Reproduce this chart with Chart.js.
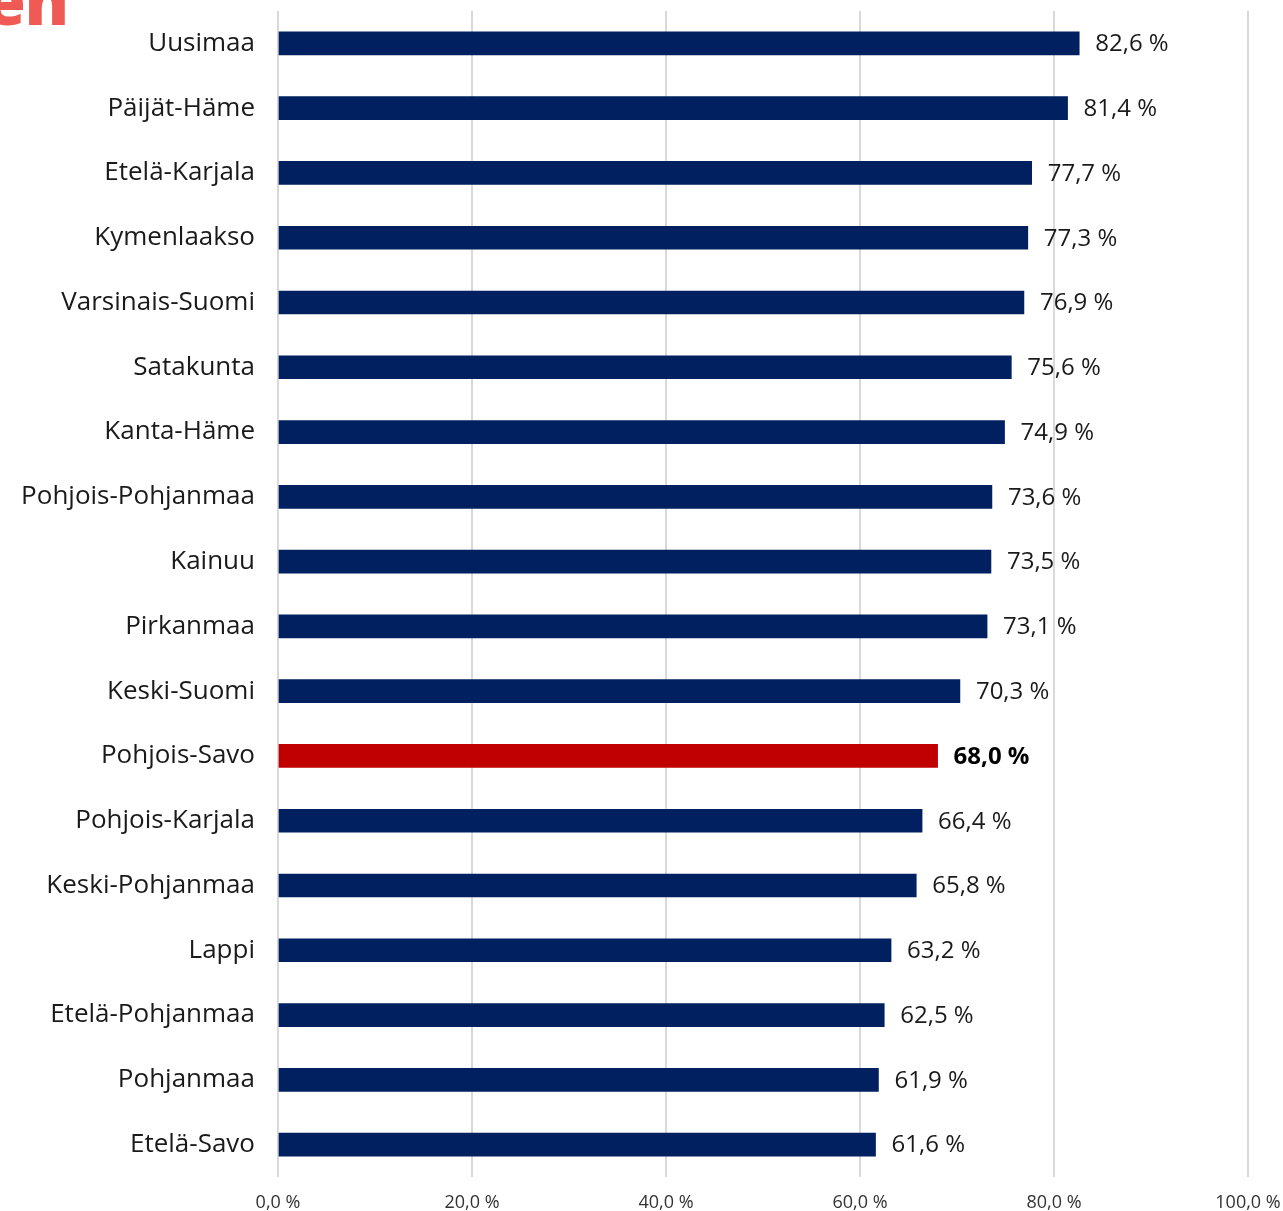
<!DOCTYPE html>
<html>
<head>
<meta charset="utf-8">
<script src="https://cdn.jsdelivr.net/npm/chart.js@4/dist/chart.umd.min.js"></script>
<style>
  html, body { margin: 0; padding: 0; background: #ffffff; overflow: hidden; }
  #wrap { position: relative; width: 1283px; height: 1211px; }
  #logo { position: absolute; left: -15px; top: -34px; font-family: "Open Sans", sans-serif; font-weight: 800; font-size: 66px; color: #ef5a55; line-height: 1; letter-spacing: -1px; }
  canvas { position: absolute; left: 0; top: 0; }
</style>
</head>
<body>
<div id="wrap">
  <canvas id="c" width="1283" height="1211"></canvas>
  <div id="logo">en</div>
</div>
<script>
const categories = ["Uusimaa","Päijät-Häme","Etelä-Karjala","Kymenlaakso","Varsinais-Suomi","Satakunta","Kanta-Häme","Pohjois-Pohjanmaa","Kainuu","Pirkanmaa","Keski-Suomi","Pohjois-Savo","Pohjois-Karjala","Keski-Pohjanmaa","Lappi","Etelä-Pohjanmaa","Pohjanmaa","Etelä-Savo"];
const values = [82.6,81.4,77.7,77.3,76.9,75.6,74.9,73.6,73.5,73.1,70.3,68.0,66.4,65.8,63.2,62.5,61.9,61.6];
const highlighted = "Pohjois-Savo";
const xTicks = [0,20,40,60,80,100];

const FONT = '"Open Sans", sans-serif';
const fmt = v => v.toFixed(1).replace('.', ',') + ' %';

const labelPlugin = {
  id: 'valueLabels',
  afterDatasetsDraw(chart) {
    const ctx = chart.ctx;
    const meta = chart.getDatasetMeta(0);
    ctx.save();
    ctx.textAlign = 'left';
    ctx.textBaseline = 'middle';
    meta.data.forEach((bar, i) => {
      const hl = categories[i] === highlighted;
      ctx.font = (hl ? 'bold ' : '') + '24px ' + FONT;
      ctx.fillStyle = hl ? '#000000' : '#1a1a1a';
      ctx.fillText(fmt(values[i]), bar.x + 16, bar.y + 1);
    });
    ctx.restore();
  }
};

new Chart(document.getElementById('c'), {
  type: 'bar',
  data: {
    labels: categories,
    datasets: [{
      data: values,
      backgroundColor: categories.map(c => c === highlighted ? '#c00000' : '#002060'),
      borderWidth: 0,
      barThickness: 23
    }]
  },
  options: {
    indexAxis: 'y',
    responsive: false,
    animation: false,
    layout: { padding: { top: 11, right: 35, left: 0, bottom: 0 } },
    plugins: { legend: { display: false }, tooltip: { enabled: false } },
    scales: {
      x: {
        min: 0, max: 100,
        afterBuildTicks: s => { s.ticks = xTicks.map(v => ({ value: v })); },
        grid: { color: '#d9d9d9', lineWidth: 2, drawTicks: false },
        border: { display: false },
        ticks: { callback: v => fmt(v), color: '#333333', font: { family: FONT, size: 18 }, padding: 15, maxRotation: 0 },
        afterFit: s => { s.height = 34; s.paddingLeft = 0; s.paddingRight = 0; }
      },
      y: {
        grid: { display: false, drawTicks: false },
        border: { display: false },
        ticks: { color: '#1a1a1a', font: { family: FONT, size: 26 }, padding: 23, autoSkip: false },
        afterFit: s => { s.width = 278; s.paddingTop = 0; s.paddingBottom = 0; }
      }
    }
  },
  plugins: [labelPlugin]
});
</script>
</body>
</html>
